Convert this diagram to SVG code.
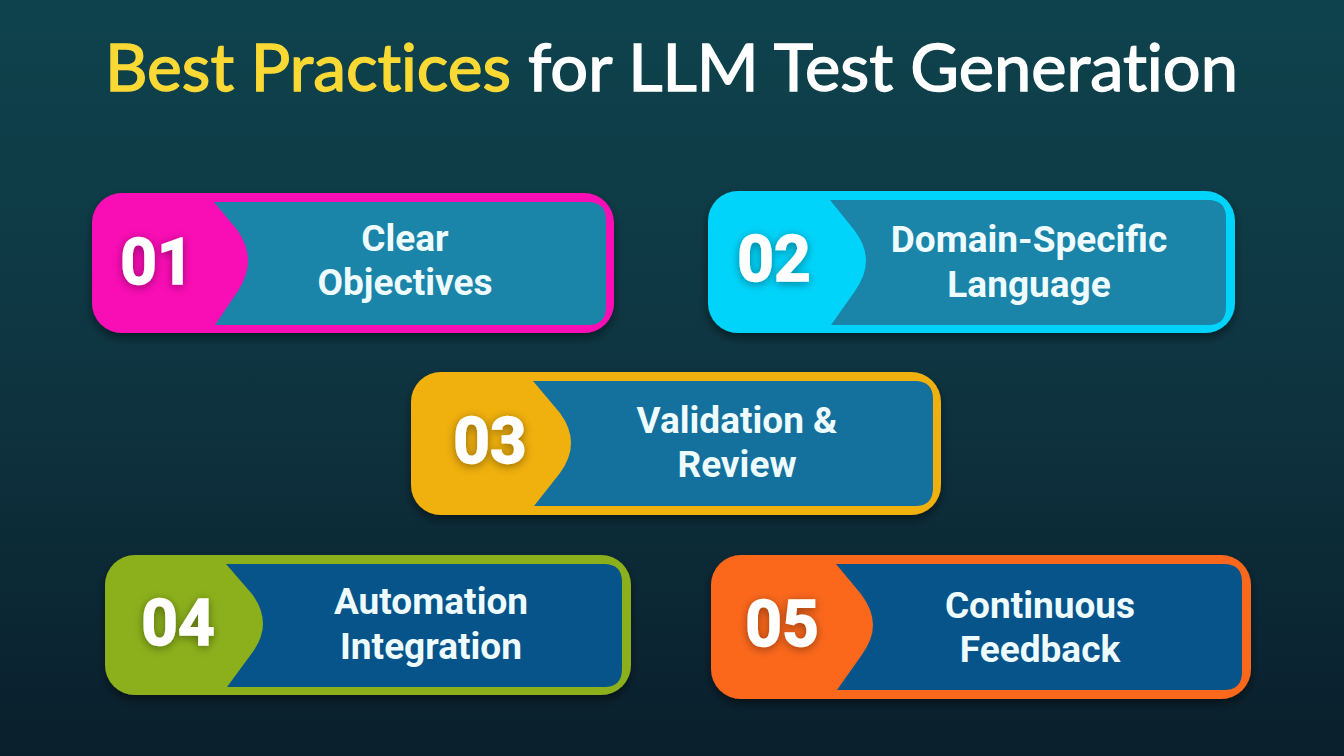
<svg xmlns="http://www.w3.org/2000/svg" width="1344" height="756" viewBox="0 0 1344 756">
<defs>
<linearGradient id="bg" x1="0" y1="0" x2="0" y2="1">
<stop offset="0" stop-color="#0e434d"/><stop offset="0.45" stop-color="#0e3642"/><stop offset="1" stop-color="#0a1f2c"/>
</linearGradient>
<filter id="sh" x="-10%" y="-15%" width="120%" height="135%"><feDropShadow dx="0" dy="5" stdDeviation="5" flood-color="#000" flood-opacity="0.45"/></filter>
<filter id="ns" x="-30%" y="-30%" width="160%" height="160%"><feDropShadow dx="0" dy="2" stdDeviation="5" flood-color="#000" flood-opacity="0.4"/></filter>
</defs>
<style>
.lab{font-family:Roboto,"Liberation Sans",sans-serif;font-weight:700;font-size:37px;fill:#eefcff;text-anchor:middle}
.num{font-family:Roboto,"Liberation Sans",sans-serif;font-weight:700;font-size:64px;fill:#fff;stroke:#fff;stroke-width:1.4;text-anchor:middle;filter:url(#ns)}
.tt{font-family:Lato,"Open Sans",sans-serif;font-weight:400;font-size:66px;font-variant-ligatures:none}
</style>
<rect width="1344" height="756" fill="url(#bg)"/>
<g id="title">
<text class="tt" x="105" y="91" fill="#fbd935" stroke="#fbd935" stroke-width="1.4" textLength="406" lengthAdjust="spacingAndGlyphs">Best Practices</text>
<text class="tt" x="528" y="91" fill="#ffffff" stroke="#ffffff" stroke-width="1.4" textLength="710" lengthAdjust="spacingAndGlyphs">for LLM Test Generation</text>
</g>
<g id="node1">
<rect x="92" y="193" width="522" height="140" rx="30" fill="#f90fb4" filter="url(#sh)"/>
<path d="M214 202H588Q606 202 606 220V307Q606 325 588 325H215L238 291Q248 275 248 261Q248 246 238 231Z" fill="#1a84a9"/>
<text class="num" x="157" y="284">01</text>
<text class="lab" x="405" y="251">Clear</text><text class="lab" x="405" y="295">Objectives</text>
</g>
<g id="node2">
<rect x="708" y="191" width="527" height="142" rx="30" fill="#00d4fb" filter="url(#sh)"/>
<path d="M830 200H1208Q1226 200 1226 218V307Q1226 325 1208 325H831L855 291Q866 275 866 261Q866 246 855 231Z" fill="#1a84a9"/>
<text class="num" x="774" y="281">02</text>
<text class="lab" x="1029" y="252">Domain-Specific</text><text class="lab" x="1029" y="297">Language</text>
</g>
<g id="node3">
<rect x="411" y="372" width="530" height="143" rx="30" fill="#f0b00f" filter="url(#sh)"/>
<path d="M533 381H915Q933 381 933 399V488Q933 506 915 506H534L560 473Q571 458 571 443Q571 428 560 413Z" fill="#14709c"/>
<text class="num" x="490" y="463">03</text>
<text class="lab" x="737" y="433">Validation &amp;</text><text class="lab" x="737" y="477">Review</text>
</g>
<g id="node4">
<rect x="105" y="555" width="526" height="140" rx="30" fill="#8cb01f" filter="url(#sh)"/>
<path d="M226 564H604Q622 564 622 582V669Q622 687 604 687H227L252 653Q263 638 263 624Q263 609 252 594Z" fill="#07548a"/>
<text class="num" x="178" y="645">04</text>
<text class="lab" x="431" y="614">Automation</text><text class="lab" x="431" y="659">Integration</text>
</g>
<g id="node5">
<rect x="711" y="555" width="540" height="144" rx="30" fill="#fb671e" filter="url(#sh)"/>
<path d="M836 564H1224Q1242 564 1242 582V672Q1242 690 1224 690H837L861 656Q873 640 873 625Q873 610 861 594Z" fill="#07548a"/>
<text class="num" x="782" y="646">05</text>
<text class="lab" x="1040" y="618">Continuous</text><text class="lab" x="1040" y="662">Feedback</text>
</g>
<g id="connectors"></g>
</svg>
